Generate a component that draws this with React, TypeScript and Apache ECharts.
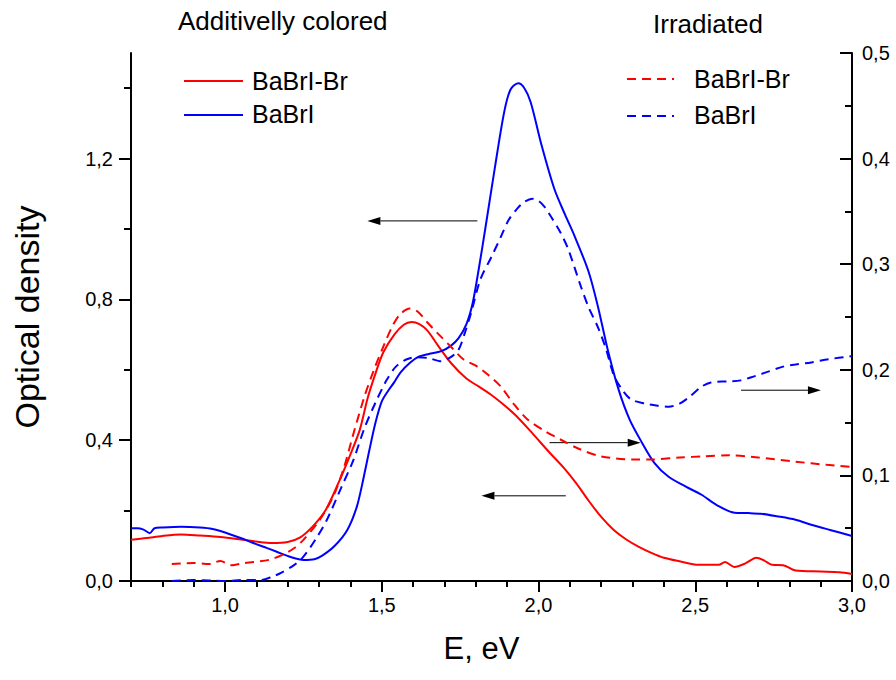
import React, { useEffect, useRef } from 'react';
import * as echarts from 'echarts';

const FONT = '"Liberation Sans", Arial, Helvetica, sans-serif';
const RED = '#ff0000';
const BLUE = '#0000ff';
const DASH = [9, 6];

// Additively colored, BaBrI-Br (left axis)
const coloredBrE = [0.70, 0.75, 0.80, 0.86, 0.92, 0.985, 1.05, 1.10, 1.15, 1.20, 1.24, 1.28, 1.32, 1.36, 1.40, 1.43, 1.455, 1.48, 1.505, 1.54, 1.57, 1.595, 1.62, 1.645, 1.68, 1.72, 1.77, 1.81, 1.855, 1.89, 1.93, 1.98, 2.035, 2.08, 2.12, 2.16, 2.20, 2.24, 2.28, 2.32, 2.36, 2.40, 2.45, 2.51, 2.575, 2.595, 2.625, 2.66, 2.695, 2.72, 2.745, 2.78, 2.82, 2.90, 2.96, 3.00];
const coloredBrOD = [0.117, 0.122, 0.128, 0.132, 0.129, 0.125, 0.118, 0.112, 0.108, 0.111, 0.124, 0.155, 0.200, 0.275, 0.360, 0.430, 0.520, 0.590, 0.650, 0.700, 0.728, 0.736, 0.730, 0.712, 0.668, 0.620, 0.575, 0.552, 0.525, 0.500, 0.468, 0.420, 0.365, 0.322, 0.278, 0.228, 0.182, 0.145, 0.118, 0.097, 0.080, 0.066, 0.056, 0.046, 0.046, 0.054, 0.040, 0.050, 0.066, 0.058, 0.046, 0.045, 0.030, 0.027, 0.025, 0.020];

// Additively colored, BaBrI (left axis)
const coloredE = [0.70, 0.72, 0.74, 0.76, 0.775, 0.80, 0.86, 0.92, 0.96, 1.00, 1.05, 1.09, 1.13, 1.165, 1.21, 1.25, 1.285, 1.31, 1.35, 1.39, 1.42, 1.44, 1.46, 1.48, 1.50, 1.52, 1.54, 1.56, 1.59, 1.615, 1.65, 1.69, 1.72, 1.745, 1.77, 1.79, 1.81, 1.83, 1.86, 1.89, 1.91, 1.935, 1.955, 1.975, 2.01, 2.05, 2.085, 2.115, 2.16, 2.19, 2.22, 2.255, 2.29, 2.33, 2.37, 2.415, 2.47, 2.52, 2.57, 2.625, 2.67, 2.71, 2.76, 2.82, 2.87, 2.93, 3.00];
const coloredOD = [0.150, 0.150, 0.146, 0.136, 0.150, 0.152, 0.154, 0.152, 0.148, 0.138, 0.122, 0.108, 0.095, 0.083, 0.068, 0.060, 0.062, 0.072, 0.100, 0.145, 0.210, 0.285, 0.370, 0.450, 0.510, 0.540, 0.565, 0.593, 0.620, 0.636, 0.645, 0.653, 0.668, 0.690, 0.730, 0.790, 0.890, 1.000, 1.170, 1.330, 1.395, 1.414, 1.400, 1.360, 1.237, 1.115, 1.040, 0.980, 0.878, 0.778, 0.660, 0.545, 0.460, 0.393, 0.335, 0.296, 0.268, 0.245, 0.215, 0.194, 0.193, 0.191, 0.184, 0.174, 0.160, 0.145, 0.128];

// Irradiated, BaBrI-Br (right axis)
const irradBrE = [0.83, 0.90, 0.95, 0.985, 1.02, 1.06, 1.09, 1.14, 1.185, 1.22, 1.25, 1.30, 1.345, 1.38, 1.41, 1.445, 1.475, 1.505, 1.535, 1.56, 1.59, 1.615, 1.645, 1.68, 1.72, 1.76, 1.805, 1.84, 1.88, 1.92, 1.965, 2.02, 2.07, 2.13, 2.20, 2.305, 2.36, 2.45, 2.53, 2.605, 2.70, 2.82, 2.92, 3.00];
const irradBrOD = [0.016, 0.017, 0.016, 0.019, 0.015, 0.017, 0.018, 0.020, 0.025, 0.031, 0.039, 0.057, 0.080, 0.108, 0.140, 0.175, 0.200, 0.222, 0.242, 0.253, 0.258, 0.255, 0.245, 0.234, 0.222, 0.210, 0.203, 0.195, 0.184, 0.168, 0.153, 0.142, 0.134, 0.125, 0.118, 0.115, 0.115, 0.117, 0.118, 0.119, 0.117, 0.113, 0.110, 0.108];

// Irradiated, BaBrI (right axis)
const irradE = [0.83, 0.90, 1.00, 1.06, 1.115, 1.15, 1.18, 1.22, 1.25, 1.29, 1.325, 1.37, 1.41, 1.445, 1.48, 1.515, 1.545, 1.58, 1.61, 1.65, 1.69, 1.72, 1.745, 1.765, 1.785, 1.815, 1.85, 1.88, 1.905, 1.93, 1.955, 1.98, 2.00, 2.02, 2.04, 2.07, 2.095, 2.135, 2.16, 2.19, 2.215, 2.24, 2.265, 2.295, 2.34, 2.38, 2.415, 2.45, 2.48, 2.52, 2.55, 2.60, 2.645, 2.69, 2.73, 2.78, 2.82, 2.87, 2.925, 3.00];
const irradOD = [0.000, 0.001, 0.000, 0.001, 0.001, 0.004, 0.008, 0.015, 0.023, 0.040, 0.058, 0.088, 0.115, 0.145, 0.169, 0.190, 0.203, 0.210, 0.212, 0.211, 0.208, 0.212, 0.219, 0.235, 0.254, 0.286, 0.307, 0.326, 0.342, 0.352, 0.359, 0.362, 0.360, 0.354, 0.345, 0.330, 0.314, 0.279, 0.259, 0.240, 0.220, 0.195, 0.182, 0.172, 0.168, 0.166, 0.165, 0.168, 0.174, 0.184, 0.188, 0.189, 0.190, 0.194, 0.198, 0.203, 0.205, 0.207, 0.210, 0.213];

// Ticks
const xMajorTicks = [1.0, 1.5, 2.0, 2.5, 3.0];
const xMinorTicks = [0.7, 0.8, 0.9, 1.1, 1.2, 1.3, 1.4, 1.6, 1.7, 1.8, 1.9, 2.1, 2.2, 2.3, 2.4, 2.6, 2.7, 2.8, 2.9];
const leftMajorTicks = [0, 0.4, 0.8, 1.2];
const leftMinorTicks = [0.2, 0.6, 1.0, 1.4];
const rightMajorTicks = [0, 0.1, 0.2, 0.3, 0.4, 0.5];
const rightMinorTicks = [0.05, 0.15, 0.25, 0.35, 0.45];

// Arrows (in E / left-axis coordinates)
const arrowFromE = [1.805, 2.087, 2.035, 2.646];
const arrowToE = [1.454, 1.818, 2.326, 2.901];
const arrowOD = [1.023, 0.242, 0.393, 0.542];

const zip = (xs: number[], ys: number[]) => xs.map((x, i) => [x, ys[i]]);
const fmt = (v: number) => Number(v).toFixed(1).replace('.', ',');

export default function App() {
  const ref = useRef<HTMLDivElement>(null);

  useEffect(() => {
    if (!ref.current) return;
    const chart = echarts.init(ref.current, null, { renderer: 'svg' });

    const axisLine = { show: true, onZero: false, lineStyle: { color: '#000', width: 2 } };
    const labelStyle = { color: '#000', fontSize: 20, fontFamily: FONT };

    const lineSeries = (name: string, data: number[][], color: string, dashed: boolean, yAxisIndex: number) => ({
      name,
      type: 'line',
      data,
      xAxisIndex: 0,
      yAxisIndex,
      showSymbol: false,
      symbol: 'none',
      smooth: 0.3,
      silent: true,
      lineStyle: { color, width: 2, type: dashed ? DASH : 'solid' },
      z: 3,
    });

    chart.setOption({
      animation: false,
      grid: { left: 131, right: 44, top: 53, bottom: 99, containLabel: false },
      xAxis: [
        {
          type: 'value',
          min: 0.7,
          max: 3.0,
          position: 'bottom',
          axisLine,
          axisTick: { show: true, customValues: xMajorTicks, length: 11, lineStyle: { color: '#000', width: 2 } },
          axisLabel: { show: true, customValues: xMajorTicks, formatter: fmt, margin: 14, ...labelStyle },
          splitLine: { show: false },
          name: 'E, eV',
          nameLocation: 'middle',
          nameGap: 52,
          nameTextStyle: { color: '#000', fontSize: 31, fontFamily: FONT, verticalAlign: 'top', padding: [0, 20, 0, 0] },
        },
        {
          type: 'value',
          min: 0.7,
          max: 3.0,
          position: 'bottom',
          axisLine: { show: false },
          axisTick: { show: true, customValues: xMinorTicks, length: 6, lineStyle: { color: '#000', width: 2 } },
          axisLabel: { show: false },
          splitLine: { show: false },
        },
      ],
      yAxis: [
        {
          type: 'value',
          min: 0,
          max: 1.5,
          position: 'left',
          axisLine,
          axisTick: { show: true, customValues: leftMajorTicks, length: 12, lineStyle: { color: '#000', width: 2 } },
          axisLabel: { show: true, customValues: leftMajorTicks, formatter: fmt, margin: 18, ...labelStyle },
          splitLine: { show: false },
          name: 'Optical density',
          nameLocation: 'middle',
          nameRotate: 90,
          nameGap: 87,
          nameTextStyle: { color: '#000', fontSize: 34, fontFamily: FONT },
        },
        {
          type: 'value',
          min: 0,
          max: 0.5,
          position: 'right',
          axisLine,
          axisTick: { show: true, inside: true, customValues: rightMajorTicks, length: 12, lineStyle: { color: '#000', width: 2 } },
          axisLabel: { show: true, customValues: rightMajorTicks, formatter: fmt, margin: 10, ...labelStyle },
          splitLine: { show: false },
        },
        {
          type: 'value',
          min: 0,
          max: 1.5,
          position: 'left',
          axisLine: { show: false },
          axisTick: { show: true, customValues: leftMinorTicks, length: 7, lineStyle: { color: '#000', width: 2 } },
          axisLabel: { show: false },
          splitLine: { show: false },
        },
        {
          type: 'value',
          min: 0,
          max: 0.5,
          position: 'right',
          axisLine: { show: false },
          axisTick: { show: true, inside: true, customValues: rightMinorTicks, length: 7, lineStyle: { color: '#000', width: 2 } },
          axisLabel: { show: false },
          splitLine: { show: false },
        },
      ],
      series: [
        lineSeries('BaBrI-Br (additively colored)', zip(coloredBrE, coloredBrOD), RED, false, 0),
        lineSeries('BaBrI (additively colored)', zip(coloredE, coloredOD), BLUE, false, 0),
        lineSeries('BaBrI-Br (irradiated)', zip(irradBrE, irradBrOD), RED, true, 1),
        lineSeries('BaBrI (irradiated)', zip(irradE, irradOD), BLUE, true, 1),
      ],
    });

    const toPx = (e: number, od: number) =>
      chart.convertToPixel({ xAxisIndex: 0, yAxisIndex: 0 }, [e, od]) as number[];

    const graphics: any[] = [];
    const text = (t: string, x: number, y: number, size: number) => ({
      type: 'text',
      x,
      y,
      silent: true,
      style: { text: t, fill: '#000', fontSize: size, fontFamily: FONT, align: 'left', verticalAlign: 'middle' },
    });
    const legendLine = (x1: number, x2: number, y: number, color: string, dashed: boolean) => ({
      type: 'line',
      silent: true,
      shape: { x1, y1: y, x2, y2: y },
      style: { stroke: color, lineWidth: 2, lineDash: dashed ? DASH : null },
    });

    graphics.push(text('Additivelly colored', 178, 21, 26));
    graphics.push(text('Irradiated', 653, 24, 26));
    graphics.push(legendLine(184, 243, 81, RED, false));
    graphics.push(text('BaBrI-Br', 252, 81, 25));
    graphics.push(legendLine(184, 243, 115, BLUE, false));
    graphics.push(text('BaBrI', 252, 114, 25));
    graphics.push(legendLine(627, 674, 79, RED, true));
    graphics.push(text('BaBrI-Br', 694, 79, 25));
    graphics.push(legendLine(627, 674, 116, BLUE, true));
    graphics.push(text('BaBrI', 694, 115, 25));

    const headLen = 13;
    const headHalf = 4;
    arrowOD.forEach((od, i) => {
      const a = toPx(arrowFromE[i], od);
      const b = toPx(arrowToE[i], od);
      const dir = b[0] > a[0] ? 1 : -1;
      const baseX = b[0] - dir * headLen;
      graphics.push({
        type: 'line',
        silent: true,
        shape: { x1: a[0], y1: a[1], x2: baseX, y2: b[1] },
        style: { stroke: '#000', lineWidth: 1 },
      });
      graphics.push({
        type: 'polygon',
        silent: true,
        shape: { points: [[b[0], b[1]], [baseX, b[1] - headHalf], [baseX, b[1] + headHalf]] },
        style: { fill: '#000' },
      });
    });

    chart.setOption({ graphic: graphics });

    return () => chart.dispose();
  }, []);

  return (
    <div
      ref={ref}
      style={{ position: 'fixed', left: 0, top: 0, width: 896, height: 680, background: '#fff' }}
    />
  );
}
